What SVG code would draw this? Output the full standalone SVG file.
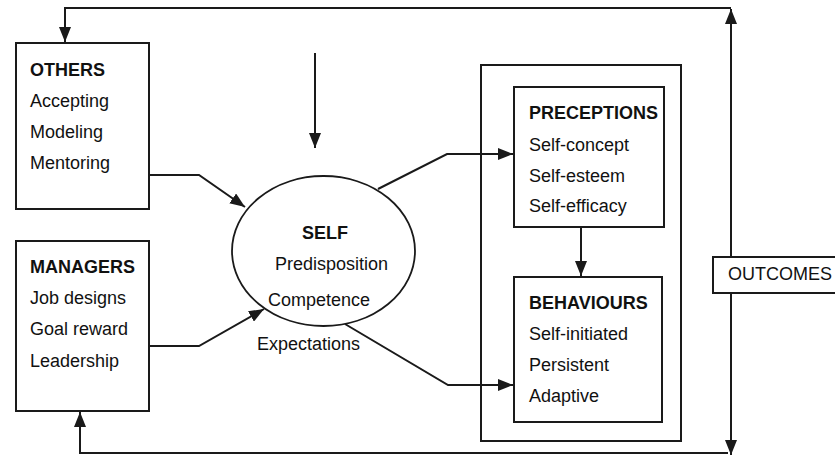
<svg xmlns="http://www.w3.org/2000/svg" width="835" height="457" viewBox="0 0 835 457">
<style>
.box{fill:#fff;stroke:#1a1a1a;stroke-width:2}
.frame{fill:none;stroke:#1a1a1a;stroke-width:2}
.ln{fill:none;stroke:#1a1a1a;stroke-width:2}
.t{font-family:"Liberation Sans",Arial,sans-serif;font-size:18px;fill:#111}
.b{font-weight:bold}
</style>
<defs>
<marker id="ah" markerUnits="userSpaceOnUse" markerWidth="16" markerHeight="12" refX="15" refY="6" orient="auto">
<path d="M0,0 L15,6 L0,12 z" fill="#1a1a1a"/>
</marker>
</defs>
<rect width="835" height="457" fill="#fff"/>
<g id="others">
<rect class="box" x="16" y="43" width="133" height="166"/>
<text class="t b" x="30" y="76">OTHERS</text>
<text class="t" x="30" y="107">Accepting</text>
<text class="t" x="30" y="138">Modeling</text>
<text class="t" x="30" y="169">Mentoring</text>
</g>
<g id="managers">
<rect class="box" x="16" y="241" width="133" height="170"/>
<text class="t b" x="30" y="273">MANAGERS</text>
<text class="t" x="30" y="304">Job designs</text>
<text class="t" x="30" y="335">Goal reward</text>
<text class="t" x="30" y="367">Leadership</text>
</g>
<g id="self">
<ellipse cx="323.5" cy="251" rx="91.5" ry="75" fill="#fff" stroke="#1a1a1a" stroke-width="1.8"/>
<text class="t b" x="302" y="239">SELF</text>
<text class="t" x="275" y="270">Predisposition</text>
<text class="t" x="268" y="306">Competence</text>
<text class="t" x="257" y="350">Expectations</text>
</g>
<g id="outer">
<rect class="frame" x="481" y="65" width="200" height="376"/>
</g>
<g id="preceptions">
<rect class="box" x="514" y="87" width="150" height="140"/>
<text class="t b" x="529" y="119">PRECEPTIONS</text>
<text class="t" x="529" y="151">Self-concept</text>
<text class="t" x="529" y="182">Self-esteem</text>
<text class="t" x="529" y="212">Self-efficacy</text>
</g>
<g id="behaviours">
<rect class="box" x="514" y="277" width="148" height="145"/>
<text class="t b" x="529" y="309">BEHAVIOURS</text>
<text class="t" x="529" y="340">Self-initiated</text>
<text class="t" x="529" y="371">Persistent</text>
<text class="t" x="529" y="402">Adaptive</text>
</g>
<g id="outcomes">
<rect class="box" x="713" y="257" width="130" height="36"/>
<text class="t" x="728" y="280">OUTCOMES</text>
</g>
<g id="connectors">
<polyline class="ln" points="731,8 65,8 65,42" marker-end="url(#ah)"/>
<polyline class="ln" points="728,453 80,453 80,412" marker-end="url(#ah)"/>
<line class="ln" x1="731" y1="256" x2="731" y2="9" stroke-width="2.8" marker-end="url(#ah)"/>
<line class="ln" x1="731" y1="294" x2="731" y2="455" stroke-width="2.8" marker-end="url(#ah)"/>
<line class="ln" x1="315" y1="53" x2="315" y2="148" marker-end="url(#ah)"/>
<polyline class="ln" points="149,175 199,175 245,207" marker-end="url(#ah)"/>
<polyline class="ln" points="149,346 199,346 264,309" marker-end="url(#ah)"/>
<polyline class="ln" points="378,189 447,154 513,154" marker-end="url(#ah)"/>
<polyline class="ln" points="345,324 448,385 513,385" marker-end="url(#ah)"/>
<line class="ln" x1="581" y1="228" x2="581" y2="276" stroke-width="2.8" marker-end="url(#ah)"/>
</g>
</svg>
